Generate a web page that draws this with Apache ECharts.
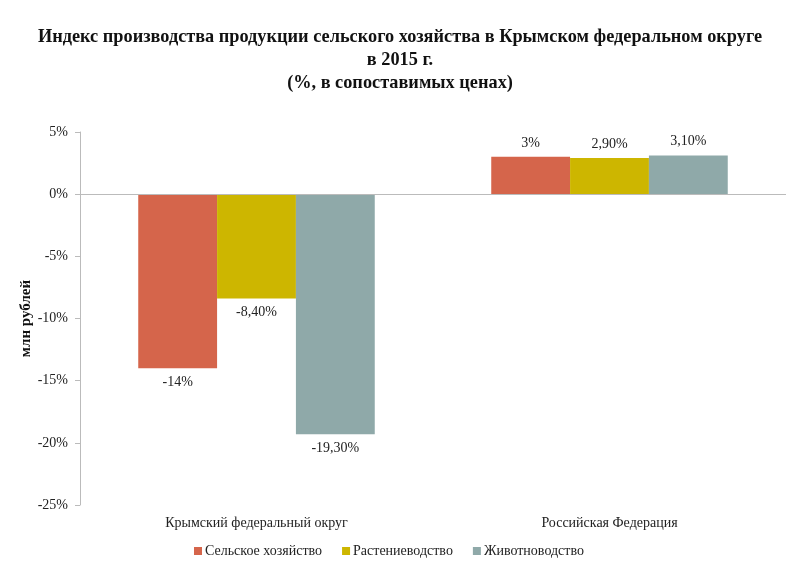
<!DOCTYPE html>
<html><head><meta charset="utf-8">
<script src="https://cdn.jsdelivr.net/npm/echarts@6/dist/echarts.min.js"></script>
<style>html,body{margin:0;padding:0;background:#fff}#c{width:800px;height:569px}</style>
</head><body><div id="c"></div>
<script>
const categories = ['Крымский федеральный округ', 'Российская Федерация'];
const seriesNames = ['Сельское хозяйство', 'Растениеводство', 'Животноводство'];
const agriculture = [-14, 3];
const cropProduction = [-8.4, 2.9];
const livestock = [-19.3, 3.1];
const colors = ['#D5654B', '#CDB600', '#8FA9A9'];

const font = 'Liberation Serif';
function fmt(v){ return (Number.isInteger(v) ? String(v) : v.toFixed(2).replace('.', ',')) + '%'; }
function mk(name, vals, color){
  return {
    name: name, type: 'bar', barGap: '0%', barCategoryGap: '33%',
    itemStyle: {color: color},
    data: vals.map(v => ({value: v, label: {position: v < 0 ? 'bottom' : 'top'}})),
    label: {show: true, distance: 7, fontFamily: font, fontSize: 14, color: '#222',
      formatter: p => fmt(p.value)}
  };
}
const chart = echarts.init(document.getElementById('c'));
chart.setOption({
  backgroundColor: '#fff',
  animation: false,
  title: {
    text: 'Индекс производства продукции сельского хозяйства в Крымском федеральном округе\nв 2015 г.\n(%, в сопоставимых ценах)',
    left: 'center', top: 21,
    textStyle: {fontFamily: font, fontSize: 18.3, fontWeight: 'bold', color: '#111', lineHeight: 23}
  },
  legend: {
    bottom: 6, left: 189, itemWidth: 8, itemHeight: 8, itemGap: 20,
    icon: 'rect',
    textStyle: {fontFamily: font, fontSize: 14, color: '#222', padding: [0,0,0,-2]},
    data: seriesNames
  },
  grid: {left: 80, right: 14, top: 132, bottom: 64, containLabel: false},
  xAxis: {
    type: 'category', data: categories, position: 'bottom',
    axisLine: {show: false}, axisTick: {show: false},
    axisLabel: {fontFamily: font, fontSize: 14, color: '#222', margin: 11}
  },
  yAxis: {
    type: 'value', min: -25, max: 5, interval: 5,
    name: 'млн рублей', nameLocation: 'middle', nameGap: 46, nameRotate: 90,
    nameMoveOverlap: false,
    nameTextStyle: {fontFamily: font, fontSize: 15, fontWeight: 'bold', color: '#111'},
    axisLine: {show: true, lineStyle: {color: '#bbb'}},
    axisTick: {show: true, length: 5, lineStyle: {color: '#bbb'}},
    splitLine: {show: false},
    axisLabel: {fontFamily: font, fontSize: 14, color: '#222', margin: 12, formatter: v => v + '%'}
  },
  series: [
    mk(seriesNames[0], agriculture, colors[0]),
    mk(seriesNames[1], cropProduction, colors[1]),
    mk(seriesNames[2], livestock, colors[2]),
    {type: 'line', data: [], markLine: {silent: true, symbol: 'none', label: {show: false},
      lineStyle: {color: '#bbb', type: 'solid', width: 1}, data: [{yAxis: 0}]}}
  ]
});
</script></body></html>
